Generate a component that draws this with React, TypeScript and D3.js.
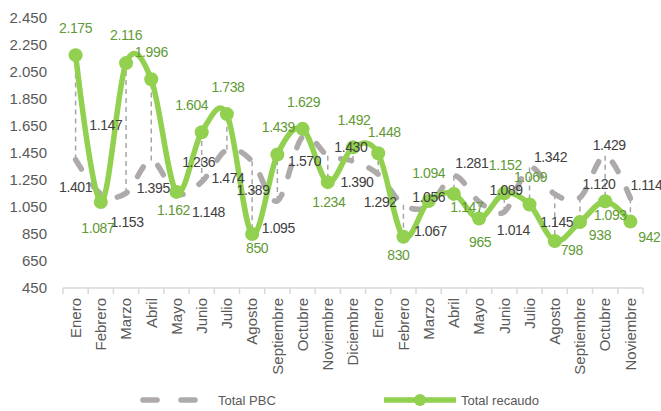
import React, { useEffect, useRef } from 'react';
import * as d3 from 'd3';

const months = [
  "Enero", "Febrero", "Marzo", "Abril", "Mayo", "Junio", "Julio", "Agosto",
  "Septiembre", "Octubre", "Noviembre", "Diciembre",
  "Enero", "Febrero", "Marzo", "Abril", "Mayo", "Junio", "Julio", "Agosto",
  "Septiembre", "Octubre", "Noviembre"
];
const totalPBC = [
  1401, 1147, 1153, 1395, 1148, 1236, 1474, 1389, 1095, 1570, 1430, 1390,
  1292, 1067, 1056, 1281, 1089, 1014, 1342, 1145, 1120, 1429, 1114
];
const totalRecaudo = [
  2175, 1087, 2116, 1996, 1162, 1604, 1738, 850, 1439, 1629, 1234, 1492,
  1448, 830, 1094, 1147, 965, 1152, 1069, 798, 938, 1093, 942
];
const yTicks = [450, 650, 850, 1050, 1250, 1450, 1650, 1850, 2050, 2250, 2450];
const seriesNames = ["Total PBC", "Total recaudo"];

// where each data label sits relative to its point [dx, dy], like the excel original
const pbcLabelShift = [
  [0, 27], [5, -69], [1, 29], [2, 28], [32, 18], [-3, -20], [1, 28], [1, 29],
  [1, 27], [2, 24], [23, -9], [4, 21], [2, 28], [27, 26], [0, -9], [18, -13],
  [27, -12], [9, 18], [21, -10], [2, 28], [19, -13], [4, -11], [16, -13]
];
const recaudoLabelShift = [
  [0, -27], [-3, 26], [0, -28], [0, -27], [-3, 18], [-10, -27], [1, -27], [5, 14],
  [1, -27], [1, -27], [1, 20], [1, -27], [6, -21], [-5, 18], [0, -28], [13, 13],
  [1, 24], [1, -28], [1, -27], [17, 9], [20, 13], [5, 14], [19, 16]
];

const GREEN = "#92d050";
const GREEN_TEXT = "#5f9a34";
const GRAY = "#aeaaaa";
const FONT = "'Liberation Sans', Arial, sans-serif";

const App = () => {
  const ref = useRef<SVGSVGElement>(null);

  useEffect(() => {
    const width = 661;
    const height = 411;

    const svg = d3.select(ref.current);
    svg.selectAll("*").remove();
    svg.attr("width", width).attr("height", height);

    const fmt = d3.formatLocale({
      decimal: ",", thousands: ".", grouping: [3], currency: ["$", ""]
    }).format(",d");

    const idx = d3.range(months.length);
    const x = d3.scaleBand<number>().domain(idx).range([63, 643]);
    const cx = (i: number) => (x(i) as number) + x.bandwidth() / 2;
    const y = d3.scaleLinear().domain([450, 2450]).range([288, 18]);

    // y labels (no axis line)
    svg.append("g")
      .selectAll("text")
      .data(yTicks)
      .enter()
      .append("text")
        .attr("x", 47)
        .attr("y", d => y(d))
        .attr("dy", "0.35em")
        .attr("text-anchor", "end")
        .style("font-family", FONT)
        .style("font-size", "15px")
        .style("fill", "#595959")
        .text(d => fmt(d));

    // x axis line with ticks between categories
    const bounds = d3.range(months.length + 1).map(i => 63 + i * x.step());
    svg.append("line")
      .attr("x1", 63).attr("x2", 643)
      .attr("y1", 288).attr("y2", 288)
      .attr("stroke", "#d9d9d9").attr("stroke-width", 1.5);
    svg.append("g")
      .selectAll("line")
      .data(bounds)
      .enter()
      .append("line")
        .attr("x1", d => d).attr("x2", d => d)
        .attr("y1", 288).attr("y2", 294)
        .attr("stroke", "#d9d9d9").attr("stroke-width", 1.5);

    svg.append("g")
      .selectAll("text")
      .data(idx)
      .enter()
      .append("text")
        .attr("transform", i => "translate(" + cx(i) + ",298) rotate(-90)")
        .attr("dy", "0.35em")
        .attr("text-anchor", "end")
        .style("font-family", FONT)
        .style("font-size", "15px")
        .style("fill", "#595959")
        .text(i => months[i]);

    // high-low lines between both series
    svg.append("g")
      .selectAll("line")
      .data(idx)
      .enter()
      .append("line")
        .attr("x1", i => cx(i)).attr("x2", i => cx(i))
        .attr("y1", i => y(totalPBC[i]))
        .attr("y2", i => y(totalRecaudo[i]))
        .attr("stroke", "#a6a6a6")
        .attr("stroke-width", 1.5)
        .attr("stroke-dasharray", "5,4");

    const line = (vals: number[]) => d3.line<number>()
      .x(i => cx(i))
      .y(i => y(vals[i]))
      .curve(d3.curveCardinal.tension(0))(idx);

    svg.append("path")
      .attr("d", line(totalPBC))
      .attr("fill", "none")
      .attr("stroke", GRAY)
      .attr("stroke-width", 5.5)
      .attr("stroke-linecap", "round")
      .attr("stroke-dasharray", "11,19");

    svg.append("path")
      .attr("d", line(totalRecaudo))
      .attr("fill", "none")
      .attr("stroke", GREEN)
      .attr("stroke-width", 5.5);

    svg.append("g")
      .selectAll("circle")
      .data(idx)
      .enter()
      .append("circle")
        .attr("cx", i => cx(i))
        .attr("cy", i => y(totalRecaudo[i]))
        .attr("r", 7)
        .attr("fill", GREEN);

    // data labels
    const labels = (vals: number[], shift: number[][], color: string) => {
      svg.append("g")
        .selectAll("text")
        .data(idx)
        .enter()
        .append("text")
          .attr("x", i => cx(i) + shift[i][0])
          .attr("y", i => y(vals[i]) + shift[i][1])
          .attr("dy", "0.35em")
          .attr("text-anchor", "middle")
          .style("font-family", FONT)
          .style("font-size", "14px")
          .style("letter-spacing", "-0.4px")
          .style("fill", color)
          .text(i => fmt(vals[i]));
    };
    labels(totalPBC, pbcLabelShift, "#404040");
    labels(totalRecaudo, recaudoLabelShift, GREEN_TEXT);

    // legend
    const legend = svg.append("g");
    legend.append("line")
      .attr("x1", 143).attr("x2", 198)
      .attr("y1", 400).attr("y2", 400)
      .attr("stroke", GRAY)
      .attr("stroke-width", 5.5)
      .attr("stroke-linecap", "round")
      .attr("stroke-dasharray", "14,24");
    legend.append("text")
      .attr("x", 218).attr("y", 400).attr("dy", "0.35em")
      .style("font-family", FONT).style("font-size", "13px")
      .style("fill", "#595959")
      .text(seriesNames[0]);
    legend.append("line")
      .attr("x1", 384).attr("x2", 456)
      .attr("y1", 400).attr("y2", 400)
      .attr("stroke", GREEN)
      .attr("stroke-width", 5.5);
    legend.append("circle")
      .attr("cx", 420).attr("cy", 400).attr("r", 6)
      .attr("fill", GREEN);
    legend.append("text")
      .attr("x", 461).attr("y", 400).attr("dy", "0.35em")
      .style("font-family", FONT).style("font-size", "13px")
      .style("fill", "#595959")
      .text(seriesNames[1]);
  }, []);

  return (
    <div style={{ position: "absolute", left: 0, top: 0, background: "#fff" }}>
      <svg ref={ref}></svg>
    </div>
  );
};

export default App;
